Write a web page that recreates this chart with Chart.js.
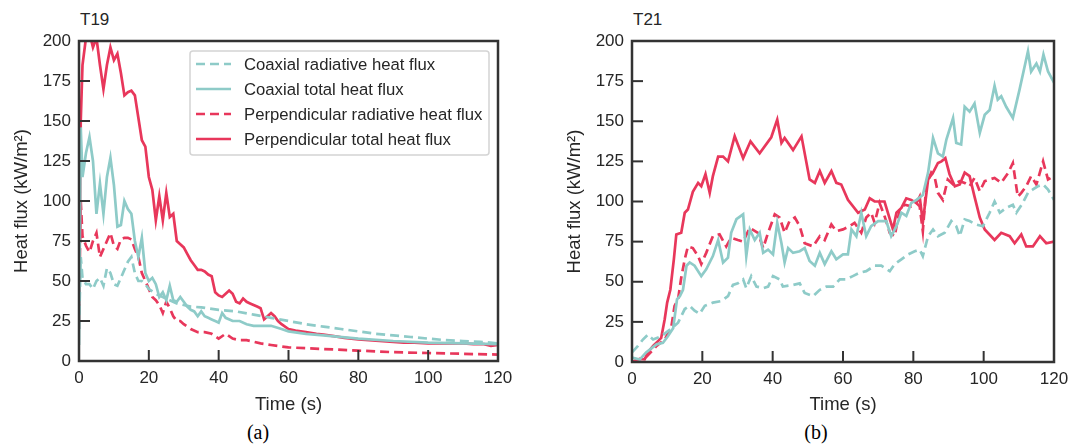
<!DOCTYPE html>
<html>
<head>
<meta charset="utf-8">
<script src="https://cdn.jsdelivr.net/npm/chart.js@4.4.0/dist/chart.umd.min.js"></script>
<style>
  body { margin: 0; background: #fff; width: 1091px; height: 448px; overflow: hidden; position: relative; font-family: "Liberation Sans", Arial, sans-serif; }
  .box { position: absolute; top: 0; }
  .tag { position: absolute; font-size: 17px; color: #262626; line-height: 20px; }
  .cap { position: absolute; width: 60px; text-align: center; font-family: "Liberation Serif", "Times New Roman", serif; font-size: 20px; color: #000; line-height: 22px; }
</style>
</head>
<body>
<div class="tag" style="left:80px;top:10px;">T19</div>
<div class="tag" style="left:633px;top:10px;">T21</div>
<div class="box" style="left:0px;"><canvas id="c19" width="545" height="420"></canvas></div>
<div class="box" style="left:546px;"><canvas id="c21" width="545" height="420"></canvas></div>
<div class="cap" style="left:228px;top:421px;">(a)</div>
<div class="cap" style="left:786px;top:421px;">(b)</div>
<script>
const TEAL = '#8ecbc8';
const RED = '#e8375b';

// ---- T19 ----
const t19CoaxRadT = [0, 0.5, 1, 2, 3, 4, 5, 6, 7, 8,
  9, 10, 11, 12, 13, 14, 15, 16, 17, 18,
  19, 20, 22, 24, 26, 28, 30, 32, 35, 40,
  45, 50, 55, 60, 65, 70, 75, 80, 85, 90,
  95, 100, 105, 110, 115, 120];
const t19CoaxRad = [20, 65, 52, 48, 48, 45, 50, 52, 47, 58,
  55, 48, 47, 52, 57, 62, 65, 55, 50, 50,
  48, 45, 42, 40, 38, 36, 35, 34, 33.5, 32,
  31, 29, 27, 25, 23, 21.5, 20, 18.5, 17, 16,
  15, 14, 13, 12.5, 12, 11];

const t19CoaxTotT = [0, 0.5, 1, 2, 3, 4, 5, 6, 7, 8,
  9, 10, 11, 12, 13, 14, 15, 16, 17, 18,
  19, 20, 21, 22, 23, 24, 25, 26, 27, 28,
  29, 30, 31, 32, 33, 34, 35, 36, 37, 38,
  39, 40, 41, 42, 44, 46, 48, 50, 52, 55,
  58, 60, 65, 70, 80, 90, 100, 110, 120];
const t19CoaxTot = [10, 146, 115, 130, 140, 125, 92, 111, 92, 115,
  127, 110, 84, 85, 100, 95, 92, 75, 65, 77,
  55, 50, 52, 48, 40, 43, 38, 47, 38, 37,
  40, 37, 34, 32, 31, 28, 31, 28, 27, 26,
  25, 24, 30, 27, 25, 25, 23, 22, 22, 22,
  20, 18.5, 17, 16, 14, 12.5, 11.5, 11, 10.5];

const t19PerpRadT = [0, 0.5, 1, 2, 3, 4, 5, 6, 7, 8,
  9, 10, 11, 12, 13, 14, 15, 16, 17, 18,
  19, 20, 21, 22, 23, 24, 25, 26, 27, 28,
  29, 30, 32, 34, 36, 38, 40, 42, 44, 46,
  48, 50, 52, 55, 60, 65, 70, 80, 90, 100, 110, 120];
const t19PerpRad = [30, 100, 78, 72, 68, 75, 80, 65, 70, 75,
  80, 72, 70, 76, 77, 77, 76, 70, 65, 55,
  50, 45, 40, 38, 35, 30, 37, 33, 28, 25,
  25, 23, 20, 18, 18, 17, 14, 17, 14, 13,
  13, 12, 11, 10, 8.5, 8, 7.5, 6.5, 5.5, 5, 4.5, 4];

const t19PerpTotT = [0, 0.5, 1, 2, 3, 4, 5, 6, 7, 8,
  9, 10, 11, 12, 13, 14, 15, 16, 17, 18,
  19, 20, 21, 22, 23, 24, 25, 26, 27, 28,
  29, 30, 31, 32, 33, 34, 35, 36, 37, 38,
  39, 40, 41, 42, 43, 44, 45, 46, 47, 48,
  49, 50, 51, 52, 53, 54, 55, 56, 57, 58,
  60, 62, 65, 68, 70, 73, 76, 80, 83, 86,
  90, 93, 96, 100, 103, 106, 110, 113, 116, 118, 120];
const t19PerpTot = [20, 150, 185, 202, 205, 196, 202, 185, 170, 185,
  196, 188, 192, 180, 166, 168, 169, 166, 152, 138,
  134, 115, 107, 88, 103, 88, 105, 90, 92, 75,
  73, 71, 67, 63, 60, 57, 57, 56, 54, 53,
  43, 41, 40, 42, 44, 42, 37, 36, 39, 37,
  36, 35, 34, 33, 26, 28, 30, 28, 25, 23,
  20, 19, 18, 17, 16.5, 15.5, 14.5, 13.5, 13, 12.5,
  12, 11.5, 11.5, 11, 11, 11, 11, 10.5, 10.5, 9.5, 10];

// ---- T21 ----
const t21CoaxRadT = [0, 1.7, 3.1, 4.5, 6, 8.3, 10.7, 13.1, 15, 16.4,
  17.8, 19.2, 20.7, 23, 25.4, 27.3, 28.7, 30.1, 31.6, 32.5,
  33.9, 35.4, 37.3, 38.7, 40.1, 42, 42.9, 45.8, 47.7, 49.1,
  51.5, 53.4, 55.3, 57.2, 59.1, 60.9, 62.8, 64.7, 66.6, 69,
  70.9, 73.3, 74.7, 76.6, 78.5, 80.4, 81.8, 82.7, 84.2, 85.6,
  87, 88.9, 90.8, 92.2, 93.2, 94.6, 96, 97.8, 99.8, 101.7,
  103.1, 104.6, 106.4, 108.3, 109.3, 111.1, 112.6, 114, 115.4, 116.9,
  118.3, 120];
const t21CoaxRad = [6, 10, 14, 17, 14, 16, 20, 24.5, 33, 35,
  32, 30, 35, 37, 38, 41, 48, 49, 51.5, 46,
  53.5, 47, 46, 47, 53.5, 51.5, 47, 48, 49, 43,
  41, 45, 47, 47, 51.5, 51.5, 53.5, 55.6, 56.6, 60,
  60, 56.6, 61, 64, 67, 69, 70, 66, 78.4, 82.6,
  78.4, 80.5, 87.8, 84.6, 78.4, 88.8, 87.8, 85.7, 84.6, 93,
  100, 93, 96, 98, 93, 99, 105.4, 107.5, 109.5, 110.6,
  107.5, 101];

const t21CoaxTotT = [0, 2.2, 4, 7, 8.8, 10.2, 11.7, 12.8, 13.6, 14.5,
  15.5, 16.4, 17.8, 19.7, 21.1, 23, 24.5, 25.9, 27.3, 28.2,
  29.7, 31.6, 32.5, 33.5, 34.9, 36.3, 37.3, 38.7, 40.1, 41.3,
  42.5, 43.4, 44.4, 45.8, 47.7, 49.1, 50.5, 52, 53.4, 54.8,
  56.7, 58.1, 60, 61.4, 62.4, 63.8, 65.2, 66.6, 68, 70,
  72.3, 73.7, 75.2, 76.6, 78, 79.4, 80.9, 82.7, 84.2, 85.6,
  87, 88.4, 89.4, 91.3, 92.2, 93.6, 94.6, 96, 97.4, 98.9,
  100.3, 101.7, 103.1, 104, 105, 106.4, 108.3, 110.2, 112.6, 113.5,
  115, 116, 117, 118.3, 120];
const t21CoaxTot = [2.7, 1.5, 6, 11, 12, 16, 21, 39, 41, 45,
  60, 62, 60, 53.5, 57.7, 66, 76, 62, 65, 80.5,
  89, 92, 66, 82.6, 76, 80.5, 68, 70, 67, 86.7,
  74, 62, 71, 68, 69, 71, 63, 60, 68, 61,
  69, 64, 67, 67, 82.6, 78.4, 93, 78.4, 84.6, 87.8,
  87.8, 78.4, 84.6, 93, 91, 99, 101, 104, 118, 139.6,
  130, 128, 138.6, 152, 136.5, 135.5, 159, 156, 161, 142.7,
  154, 157, 172, 163.5, 165.6, 159, 152, 169.7, 193.6, 181,
  186, 181, 191.5, 181, 174];

const t21PerpRadT = [0, 4, 7, 9.3, 11.2, 12.1, 13.1, 14, 15, 15.9,
  17.3, 18.8, 19.7, 21.1, 23, 24.9, 26.8, 28.2, 30.1, 31.6,
  33.5, 35.8, 37.3, 38.7, 40.6, 42, 43.4, 44.8, 46.3, 47.7,
  49.1, 51.5, 53.4, 54.8, 56.7, 58.1, 60, 61.9, 63.3, 65.2,
  66.6, 68, 69, 70.4, 71.8, 73.3, 74.7, 76.1, 77.5, 79.4,
  80.9, 81.8, 82.7, 83.7, 85.1, 86, 87, 88.4, 89.8, 91.3,
  93.2, 94.6, 96, 97.4, 98.9, 100.3, 101.7, 103.1, 105, 107,
  108.3, 109.7, 110.7, 112.1, 113.5, 115, 116.9, 118.3, 120];
const t21PerpRad = [0, 3, 10, 14, 22, 35, 39, 52.5, 64, 72,
  71, 66, 61, 68, 78.4, 79.5, 72, 77.4, 76, 75,
  83.6, 80.5, 71, 80.5, 92, 90, 80.5, 87.8, 90, 84.6,
  74, 72, 78.4, 76, 85.7, 81.5, 82.6, 84.6, 86.7, 80.5,
  90, 93, 86.7, 99, 91, 80.5, 78.4, 95, 98, 97,
  99, 97, 81.5, 110.6, 118, 115.8, 105.4, 101, 113.7, 110.6,
  112.7, 111.6, 109.5, 114.7, 106.4, 112.7, 113.7, 114.7, 111.6, 118,
  124, 103, 105.4, 109.5, 115.8, 110.6, 125, 113.7, 115.8];

const t21PerpTotT = [0, 2.2, 3.6, 4.5, 6, 7.4, 8.3, 9.3, 10, 10.9,
  11.9, 12.6, 14, 15, 15.9, 17.3, 18.8, 19.7, 20.9, 22.1,
  23, 24.5, 25.9, 27.3, 29.2, 31.6, 33.7, 36.3, 39.6, 41.3,
  42.5, 43.4, 45.8, 48.2, 50.5, 52, 53.4, 54.8, 56.7, 58.1,
  59.5, 61.4, 64.3, 66.2, 67.6, 69, 71.8, 74.2, 75.2, 76.6,
  78, 79.4, 80.9, 81.8, 82.7, 84.2, 85.6, 87, 88, 89.1,
  90.3, 91.8, 93.2, 94.6, 96, 97.4, 98.9, 100.3, 103.1, 105,
  107.4, 108.8, 110.7, 112.1, 114, 116, 117.8, 120];
const t21PerpTot = [0, 2, 1.7, 6, 10, 13, 15, 26.6, 37, 45,
  64, 79.5, 80.5, 93, 95, 106, 111.6, 109.5, 117, 105.4,
  115.8, 128, 128, 125, 140.7, 127, 137.5, 130, 140, 151,
  136.5, 139.6, 132, 140.6, 113.7, 111.6, 119, 111.6, 119, 111.6,
  110.6, 101, 93, 95, 102, 100, 100, 82.6, 93, 96,
  102, 101, 99, 103, 87, 113.7, 118, 124, 125, 127,
  117, 109.5, 110.6, 118, 115.8, 103, 90, 82.6, 76, 80.5,
  78.4, 74, 79.5, 72, 72, 78.4, 74, 75];

const labels = ['Coaxial radiative heat flux', 'Coaxial total heat flux',
  'Perpendicular radiative heat flux', 'Perpendicular total heat flux'];
const xTicks = [0, 20, 40, 60, 80, 100, 120];
const yTicks = [0, 25, 50, 75, 100, 125, 150, 175, 200];

const FONT = '"Liberation Sans", Arial, sans-serif';
const TEXT = '#262626';

function zip(t, v) {
  return t.map((x, i) => ({ x: x, y: v[i] }));
}

function seriesFor(sets) {
  const colors = [TEAL, TEAL, RED, RED];
  const dashed = [true, false, true, false];
  return sets.map((s, i) => ({
    label: labels[i],
    data: zip(s[0], s[1]),
    borderColor: colors[i],
    borderWidth: 2.7,
    borderDash: dashed[i] ? [9, 5] : [],
    pointRadius: 0,
    tension: 0,
    fill: false
  }));
}

// frame + inward ticks
const framePlugin = {
  id: 'frame',
  afterDatasetsDraw(chart) {
    const { ctx, chartArea: a, scales } = chart;
    ctx.save();
    ctx.strokeStyle = '#333';
    ctx.lineWidth = 2;
    xTicks.forEach(v => {
      const px = scales.x.getPixelForValue(v);
      ctx.beginPath(); ctx.moveTo(px, a.bottom); ctx.lineTo(px, a.bottom - 11); ctx.stroke();
    });
    yTicks.forEach(v => {
      const py = scales.y.getPixelForValue(v);
      ctx.beginPath(); ctx.moveTo(a.left, py); ctx.lineTo(a.left + 11, py); ctx.stroke();
    });
    ctx.lineWidth = 2.5;
    ctx.strokeRect(a.left, a.top, a.right - a.left, a.bottom - a.top);
    ctx.restore();
  }
};

const legendPlugin = {
  id: 'boxLegend',
  afterDraw(chart) {
    const ctx = chart.ctx;
    const bx = 190, by = 51, bw = 299, bh = 104;
    ctx.save();
    ctx.fillStyle = 'rgba(255,255,255,0.9)';
    ctx.strokeStyle = '#d4d4d4';
    ctx.lineWidth = 1.5;
    ctx.beginPath();
    ctx.roundRect(bx, by, bw, bh, 3);
    ctx.fill(); ctx.stroke();
    chart.data.datasets.forEach((ds, i) => {
      const y = 64 + i * 25;
      ctx.strokeStyle = ds.borderColor;
      ctx.lineWidth = 2.7;
      ctx.setLineDash(ds.borderDash);
      ctx.beginPath(); ctx.moveTo(196, y); ctx.lineTo(231, y); ctx.stroke();
      ctx.setLineDash([]);
      ctx.fillStyle = TEXT;
      ctx.font = '16.7px ' + FONT;
      ctx.textBaseline = 'middle';
      ctx.fillText(ds.label, 244, y + 1);
    });
    ctx.restore();
  }
};

function makeChart(id, datasets, yWidth, padRight, xHeight, legend) {
  const ctx = document.getElementById(id).getContext('2d');
  const tickFont = { family: FONT, size: 17 };
  const titleFont = { family: FONT, size: 18.5 };
  return new Chart(ctx, {
    type: 'line',
    data: { datasets: datasets },
    options: {
      responsive: false,
      animation: false,
      layout: { padding: { top: 41, right: padRight, left: 0, bottom: 0 } },
      plugins: { legend: { display: false }, tooltip: { enabled: false } },
      scales: {
        x: {
          type: 'linear', min: 0, max: 120,
          afterBuildTicks: s => { s.ticks = xTicks.map(v => ({ value: v })); },
          ticks: { padding: 7, color: TEXT, font: tickFont, maxRotation: 0 },
          grid: { display: false, drawTicks: false },
          border: { display: false },
          title: { display: true, text: 'Time (s)', color: TEXT, font: titleFont, padding: { top: 0, bottom: 4 } },
          afterFit: s => { s.height = xHeight; }
        },
        y: {
          type: 'linear', min: 0, max: 200,
          afterBuildTicks: s => { s.ticks = yTicks.map(v => ({ value: v })); },
          ticks: { padding: 8, color: TEXT, font: tickFont },
          grid: { display: false, drawTicks: false },
          border: { display: false },
          title: { display: true, text: 'Heat flux (kW/m²)', color: TEXT, font: titleFont, padding: { top: yWidth - 68, bottom: 0 } },
          afterFit: s => { s.width = yWidth; }
        }
      }
    },
    plugins: legend ? [framePlugin, legendPlugin] : [framePlugin]
  });
}

makeChart('c19', seriesFor([
  [t19CoaxRadT, t19CoaxRad], [t19CoaxTotT, t19CoaxTot],
  [t19PerpRadT, t19PerpRad], [t19PerpTotT, t19PerpTot]
]), 79, 47, 59, true);

makeChart('c21', seriesFor([
  [t21CoaxRadT, t21CoaxRad], [t21CoaxTotT, t21CoaxTot],
  [t21PerpRadT, t21PerpRad], [t21PerpTotT, t21PerpTot]
]), 86, 37, 58, false);
</script>
</body>
</html>
